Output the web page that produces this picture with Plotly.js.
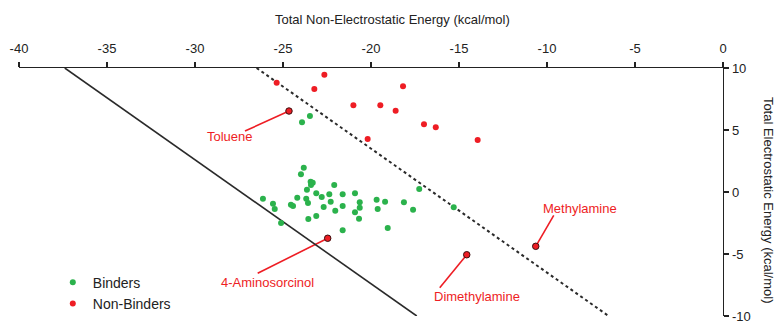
<!DOCTYPE html>
<html>
<head>
<meta charset="utf-8">
<script src="https://cdn.plot.ly/plotly-3.0.1.min.js"></script>
<style>html,body{margin:0;padding:0;background:#fff;}#chart{width:778px;height:322px;}</style>
</head>
<body>
<div id="chart"></div>
<script>
// ---- Data (kcal/mol) ----
const binderX = [-23.92,-23.47,-23.82,-23.98,-23.43,-23.31,-23.41,-22.09,-23.64,-23.11,-22.37,-21.61,-20.91,-26.14,-24.19,-23.68,-22.80,-25.57,-24.55,-24.43,-23.58,-22.29,-20.64,-19.68,-19.20,-18.13,-17.26,-25.47,-22.69,-21.61,-20.64,-19.62,-17.61,-22.03,-20.91,-15.30,-23.56,-23.11,-20.68,-25.11,-21.61,-19.05];
const binderY = [5.62,6.13,1.96,1.43,0.83,0.75,0.56,0.56,0.19,-0.10,-0.19,-0.19,-0.10,-0.54,-0.46,-0.54,-0.40,-0.94,-1.02,-1.13,-0.89,-0.78,-0.83,-0.62,-0.78,-0.83,0.24,-1.37,-1.21,-1.13,-1.27,-1.37,-1.43,-1.51,-1.64,-1.23,-2.18,-1.94,-2.15,-2.50,-3.09,-2.90];

const nonBinderX = [-25.36,-22.65,-23.22,-21.00,-19.47,-18.60,-18.18,-16.99,-16.32,-20.19,-13.94];
const nonBinderY = [8.81,9.46,8.31,6.99,6.99,6.56,8.52,5.46,5.22,4.27,4.19];

const labeledNames = ["Toluene","4-Aminosorcinol","Dimethylamine","Methylamine"];
const labeledX = [-24.66,-22.46,-14.56,-10.64];
const labeledY = [6.53,-3.73,-5.06,-4.38];

const solidLineX = [-37.4,-17.4];
const solidLineY = [10,-10];
const dottedLineX = [-26.5,-6.5];
const dottedLineY = [10,-10];

const xTickVals = [-40,-35,-30,-25,-20,-15,-10,-5,0];
const xTickText = ["-40","-35","-30","-25","-20","-15","-10","-5","0"];
const yTickVals = [-10,-5,0,5,10];
const yTickText = ["-10","-5","0","5","10"];

// ---- Styling / label placement (pixel offsets from the labelled point) ----
const GREEN = '#2bb24c';
const RED = '#ee1d24';
const labelOffsets = [
  {tx:-59, ty:-25, lx:-44, ly:-20},
  {tx:-60, ty:-44, lx:-70, ly:-35},
  {tx: 10, ty:-42, lx:-27, ly:-33},
  {tx: 44, ty: 38, lx: 18, ly: 31}
];

const FONT = 'Liberation Sans, Arial, sans-serif';

const traces = [
  {x: solidLineX, y: solidLineY, mode:'lines', line:{color:'#2a2a2a', width:1.6}, showlegend:false, hoverinfo:'skip'},
  {x: dottedLineX, y: dottedLineY, mode:'lines', line:{color:'#2a2a2a', width:2, dash:'dot'}, showlegend:false, hoverinfo:'skip'},
  {x: binderX, y: binderY, mode:'markers', name:'Binders', marker:{color:GREEN, size:6}},
  {x: nonBinderX, y: nonBinderY, mode:'markers', name:'Non-Binders', marker:{color:RED, size:6}, legendgroup:'nb'},
  {x: labeledX, y: labeledY, text: labeledNames, mode:'markers', name:'Non-Binders', legendgroup:'nb', showlegend:false,
   marker:{color:RED, size:6.5, line:{color:'#3a1010', width:1}}}
];

const annotations = [
  {text:'Total Non-Electrostatic Energy (kcal/mol)', xref:'paper', yref:'paper', x:0.531, y:1.194, xanchor:'center', yanchor:'middle', showarrow:false, font:{family:FONT, size:13, color:'#222'}},
  {text:'Total Electrostatic Energy (kcal/mol)', xref:'paper', yref:'paper', x:1.064, y:0.468, xanchor:'center', yanchor:'middle', textangle:90, showarrow:false, font:{family:FONT, size:13, color:'#222'}}
];
const shapes = [];
labeledNames.forEach((nm, i) => {
  const o = labelOffsets[i];
  annotations.push({text:nm, x:labeledX[i], y:labeledY[i], xref:'x', yref:'y', xshift:o.tx, yshift:o.ty,
    showarrow:false, xanchor:'center', yanchor:'middle', font:{family:FONT, size:13, color:RED}});
  shapes.push({type:'line', layer:'below', xref:'x', yref:'y', xsizemode:'pixel', ysizemode:'pixel',
    xanchor:labeledX[i], yanchor:labeledY[i], x0:0, y0:0, x1:o.lx, y1:o.ly, line:{color:RED, width:1.6}});
});

const layout = {
  width:778, height:322,
  margin:{l:19, r:55, t:68, b:6, pad:0, autoexpand:false},
  paper_bgcolor:'#fff', plot_bgcolor:'#fff',
  font:{family:FONT, size:13, color:'#222'},
  showlegend:true,
  legend:{x:0.048, xanchor:'left', y:-0.015, yanchor:'bottom', bgcolor:'rgba(0,0,0,0)', font:{family:FONT, size:14, color:'#222'}, itemwidth:30, tracegroupgap:0},
  xaxis:{side:'top', range:[-40,0], tickvals:xTickVals, ticktext:xTickText, ticks:'outside', ticklen:5, tickwidth:1.3, tickcolor:'#222', ticklabelstandoff:4,
    showline:true, linecolor:'#222', linewidth:1.3, showgrid:false, zeroline:false, automargin:false, ticklabeloverflow:'allow',
    tickfont:{family:FONT, size:13, color:'#222'}, fixedrange:true},
  yaxis:{side:'right', range:[-10,10], tickvals:yTickVals, ticktext:yTickText, ticks:'outside', ticklen:5, tickwidth:1.3, tickcolor:'#222',
    showline:true, linecolor:'#222', linewidth:1.3, showgrid:false, zeroline:false, automargin:false, ticklabeloverflow:'allow',
    tickfont:{family:FONT, size:13, color:'#222'}, fixedrange:true},
  annotations: annotations,
  shapes: shapes
};

Plotly.newPlot('chart', traces, layout, {displayModeBar:false, staticPlot:true});
</script>
</body>
</html>
